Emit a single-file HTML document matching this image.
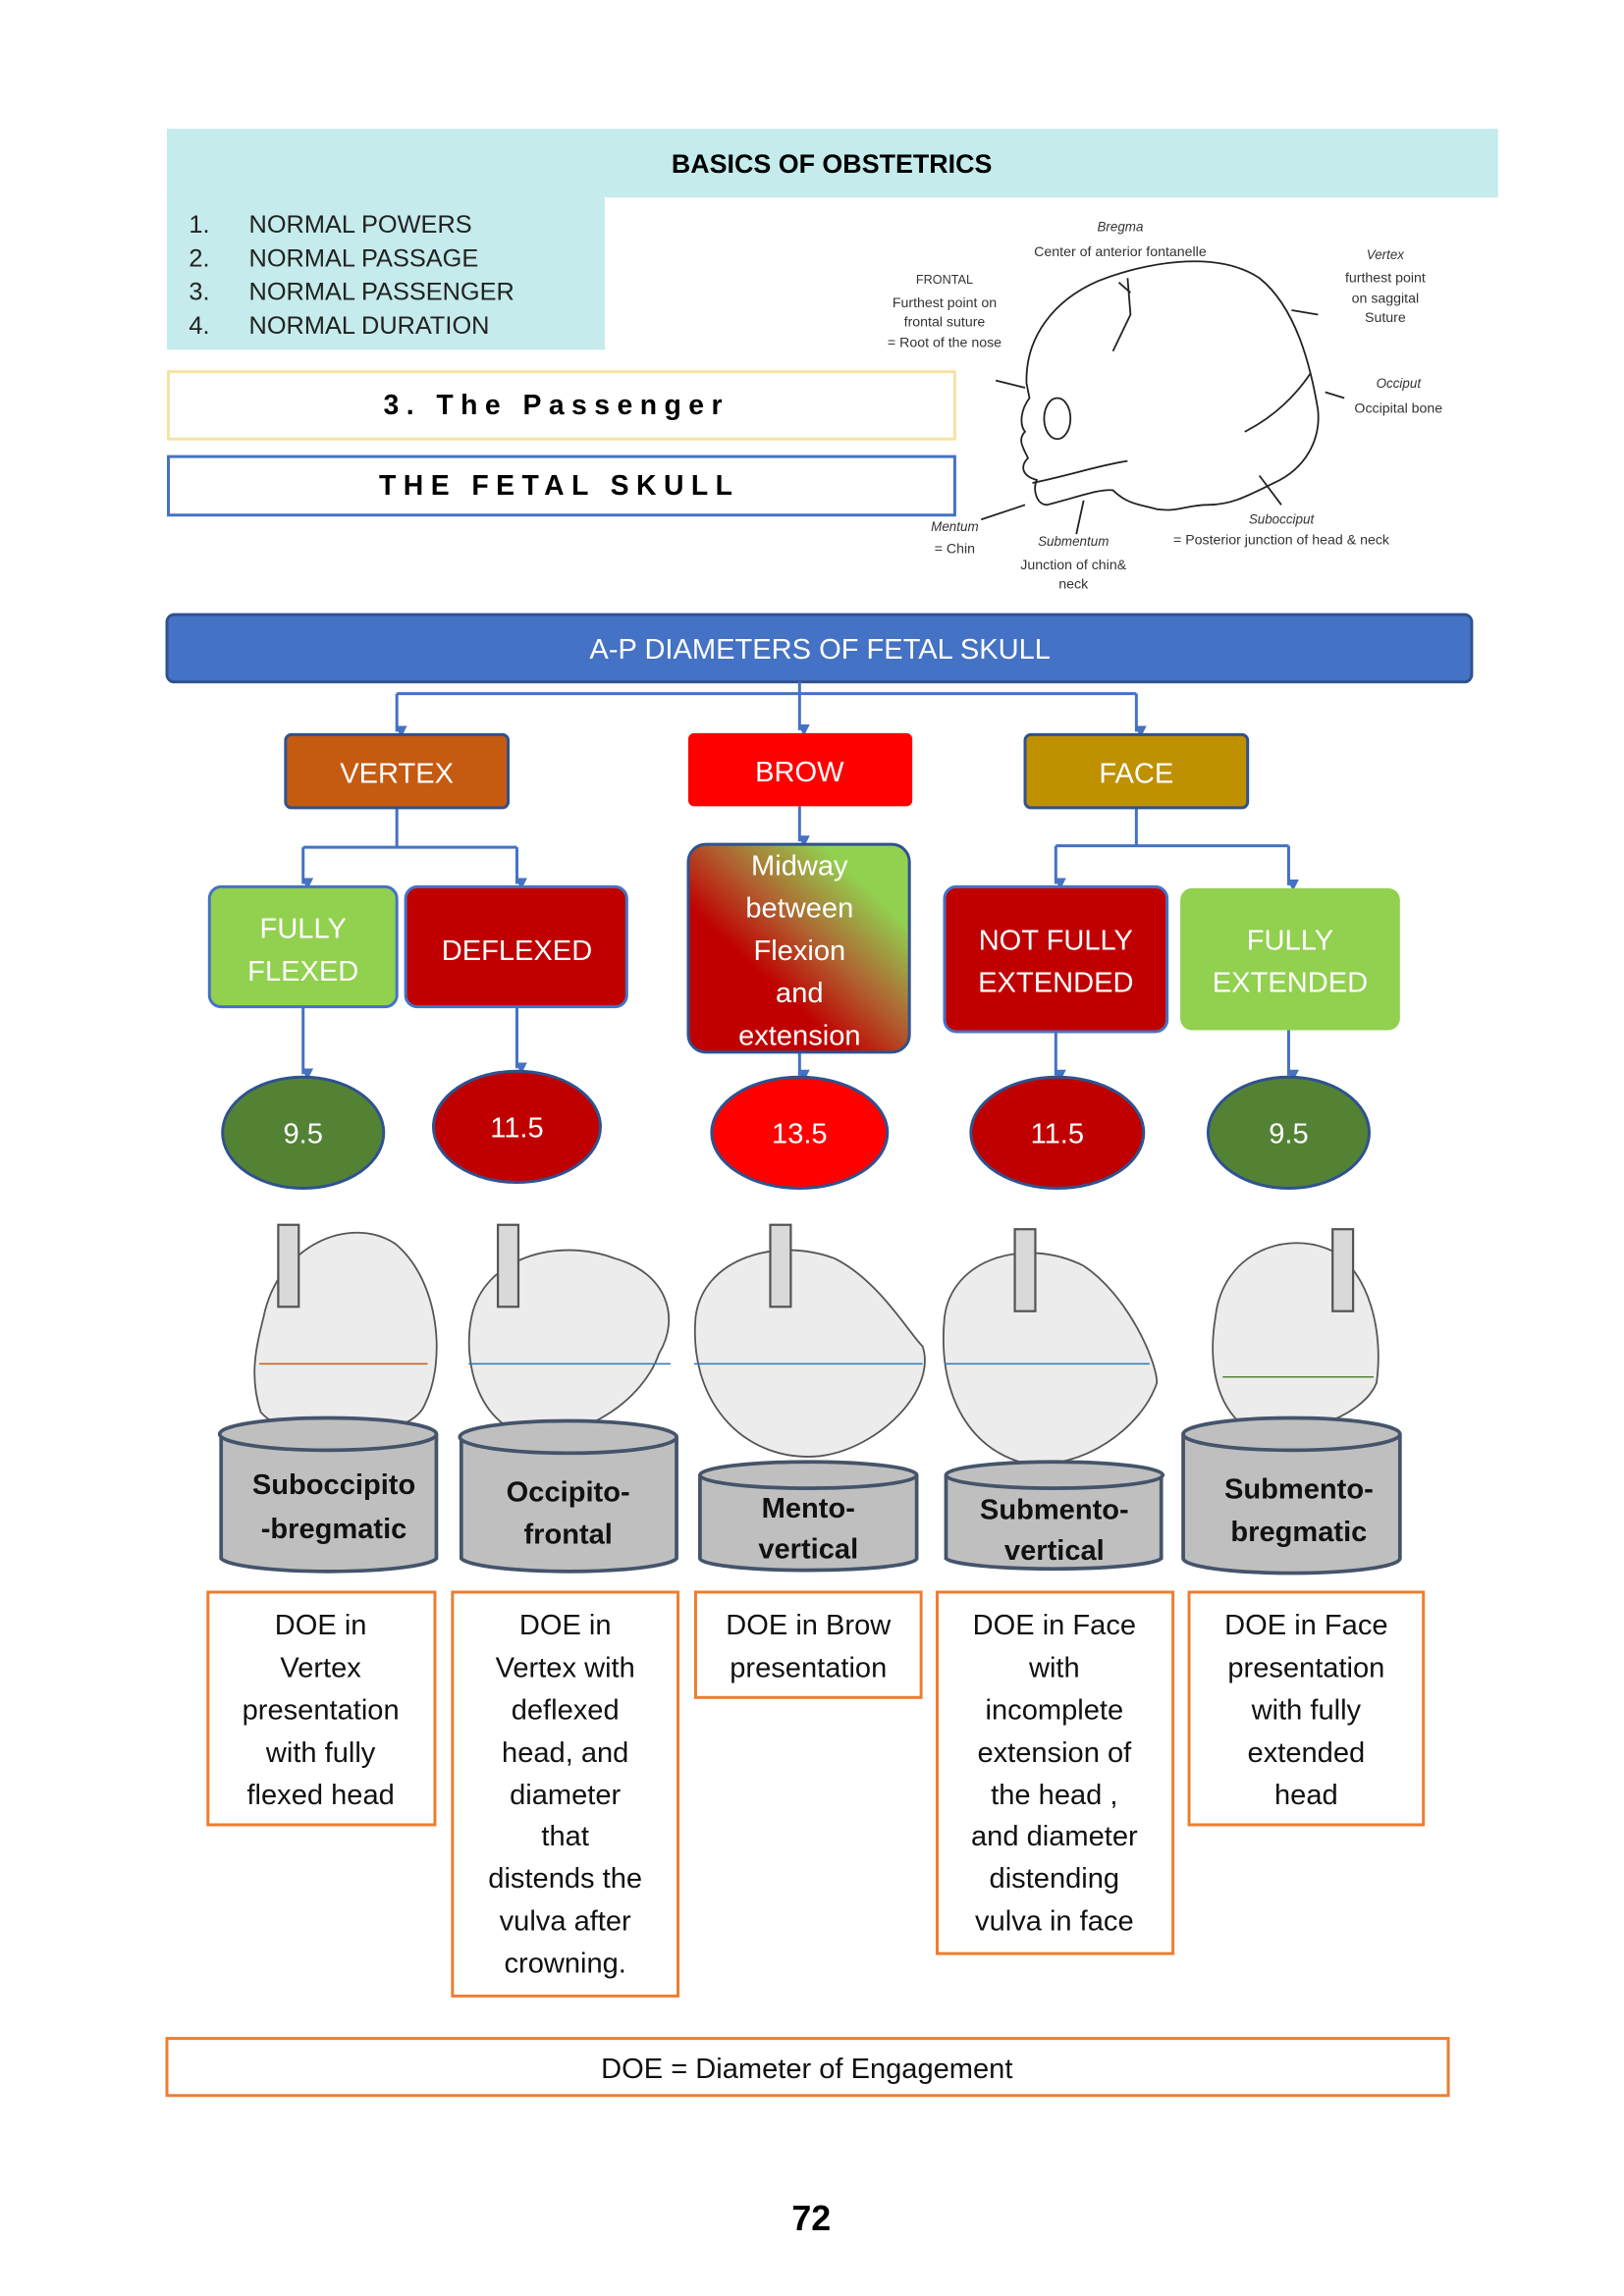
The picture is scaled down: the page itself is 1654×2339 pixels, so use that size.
<!DOCTYPE html>
<html><head><meta charset="utf-8"><style>html,body{margin:0;padding:0;background:#fff}svg{display:block}</style></head>
<body>
<svg xmlns="http://www.w3.org/2000/svg" width="1654" height="2339" viewBox="0 0 1109 1569" preserveAspectRatio="none" font-family="Liberation Sans, sans-serif">
<defs>
<marker id="a" markerWidth="8" markerHeight="8" refX="4" refY="7" orient="auto" markerUnits="userSpaceOnUse"><path d="M0,0 L8,0 L4,8 z" fill="#4472c4" transform="rotate(-90 4 4)"/></marker>
<linearGradient id="g2" x1="0" y1="1" x2="1" y2="0"><stop offset="0" stop-color="#c00000"/><stop offset="0.35" stop-color="#c00000"/><stop offset="0.55" stop-color="#b06030"/><stop offset="0.8" stop-color="#92d050"/></linearGradient>
</defs>
<rect x="114" y="88" width="909" height="47" fill="#c5ebec"/>
<text x="568" y="118" font-size="18" font-weight="bold" text-anchor="middle">BASICS OF OBSTETRICS</text>
<rect x="114" y="135" width="299" height="104" fill="#c5ebec"/>
<g font-size="17" fill="#222">
<text x="129" y="159">1.</text><text x="170" y="159">NORMAL POWERS</text>
<text x="129" y="182">2.</text><text x="170" y="182">NORMAL PASSAGE</text>
<text x="129" y="205">3.</text><text x="170" y="205">NORMAL PASSENGER</text>
<text x="129" y="228">4.</text><text x="170" y="228">NORMAL DURATION</text>
</g>
<rect x="115" y="254" width="537" height="46" fill="none" stroke="#f7e3a1" stroke-width="2"/>
<text x="380" y="283" font-size="19" font-weight="bold" text-anchor="middle" letter-spacing="5">3. The Passenger</text>
<rect x="115" y="312" width="537" height="40" fill="none" stroke="#4472c4" stroke-width="2"/>
<text x="382" y="338" font-size="19" font-weight="bold" text-anchor="middle" letter-spacing="5">THE FETAL SKULL</text>
<g fill="none" stroke="#222" stroke-width="1.2">
<path d="M701,262 C700,230 720,205 750,192 C780,180 830,170 860,190 C885,210 895,250 900,280 C902,300 892,320 870,330 C850,340 840,345 825,345 C810,345 805,350 790,348 C780,345 770,345 760,335 C750,334 735,340 715,345 C708,345 705,335 708,328 C697,325 697,318 702,313 C698,305 695,300 700,295 C696,290 697,280 703,272 Z"/>
<path d="M770,190 L772,215 L760,240"/><path d="M764,193 L772,200"/>
<path d="M850,295 C870,285 885,270 895,255"/>
<ellipse cx="722" cy="286" rx="9" ry="14"/>
<path d="M705,330 C730,325 750,318 770,315"/>
<path d="M680,260 L700,265 M900,215 L882,212 M905,268 L918,272 M875,345 L860,325 M670,355 L700,345 M735,365 L740,342"/>
</g>
<g font-size="9.5" fill="#333" text-anchor="middle">
<text x="765" y="158" font-style="italic" font-size="9">Bregma</text>
<text x="765" y="175">Center of anterior fontanelle</text>
<text x="645" y="194" font-size="8.5">FRONTAL</text>
<text x="645" y="210">Furthest point on</text><text x="645" y="223">frontal suture</text><text x="645" y="237">= Root of the nose</text>
<text x="946" y="177" font-style="italic" font-size="9">Vertex</text>
<text x="946" y="193">furthest point</text><text x="946" y="207">on saggital</text><text x="946" y="220">Suture</text>
<text x="955" y="265" font-style="italic" font-size="9">Occiput</text>
<text x="955" y="282">Occipital bone</text>
<text x="875" y="358" font-style="italic" font-size="9">Subocciput</text>
<text x="875" y="372">= Posterior junction of head &amp; neck</text>
<text x="652" y="363" font-style="italic" font-size="9">Mentum</text><text x="652" y="378">= Chin</text>
<text x="733" y="373" font-style="italic" font-size="9">Submentum</text>
<text x="733" y="389">Junction of chin&amp;</text><text x="733" y="402">neck</text>
</g>
<rect x="114" y="420" width="891" height="46" rx="5" fill="#4472c4" stroke="#2f528f" stroke-width="2"/>
<text x="560" y="450" font-size="19.5" fill="#fff" text-anchor="middle">A-P DIAMETERS OF FETAL SKULL</text>
<g stroke="#4472c4" stroke-width="2" fill="none">
<path d="M546,466 V474 M271,474 H776"/>
<path d="M271,474 V500" marker-end="url(#a)"/><path d="M546,474 V499" marker-end="url(#a)"/><path d="M776,474 V500" marker-end="url(#a)"/>
<path d="M271,552 V579 M207,579 H353"/>
<path d="M207,579 V604" marker-end="url(#a)"/><path d="M353,579 V604" marker-end="url(#a)"/>
<path d="M546,551 V575" marker-end="url(#a)"/>
<path d="M776,552 V578 M721,578 H880"/>
<path d="M721,578 V604" marker-end="url(#a)"/><path d="M880,578 V605" marker-end="url(#a)"/>
<path d="M207,688 V734" marker-end="url(#a)"/><path d="M353,688 V730" marker-end="url(#a)"/>
<path d="M546,719 V735" marker-end="url(#a)"/><path d="M721,705 V735" marker-end="url(#a)"/><path d="M880,704 V735" marker-end="url(#a)"/>
</g>
<rect x="195" y="502" width="152" height="50" rx="4" fill="#c55a11" stroke="#2f528f" stroke-width="2"/>
<text x="271" y="535" font-size="19.5" fill="#fff" text-anchor="middle">VERTEX</text>
<rect x="470" y="501" width="153" height="50" rx="4" fill="#ff0000"/>
<text x="546" y="534" font-size="19.5" fill="#fff" text-anchor="middle">BROW</text>
<rect x="700" y="502" width="152" height="50" rx="4" fill="#bf9000" stroke="#2f528f" stroke-width="2"/>
<text x="776" y="535" font-size="19.5" fill="#fff" text-anchor="middle">FACE</text>
<rect x="143" y="606" width="128" height="82" rx="8" fill="#92d050" stroke="#4472c4" stroke-width="2"/>
<text x="207" y="641" font-size="19.5" fill="#fff" text-anchor="middle">FULLY</text>
<text x="207" y="670" font-size="19.5" fill="#fff" text-anchor="middle">FLEXED</text>
<rect x="277" y="606" width="151" height="82" rx="8" fill="#c00000" stroke="#4472c4" stroke-width="2"/>
<text x="353" y="656" font-size="19.5" fill="#fff" text-anchor="middle">DEFLEXED</text>
<rect x="470" y="577" width="151" height="142" rx="12" fill="url(#g2)" stroke="#2f528f" stroke-width="2"/>
<g font-size="19.5" fill="#fff" text-anchor="middle">
<text x="546" y="598">Midway</text><text x="546" y="627">between</text><text x="546" y="656">Flexion</text><text x="546" y="685">and</text><text x="546" y="714">extension</text></g>
<rect x="645" y="606" width="152" height="99" rx="8" fill="#c00000" stroke="#4472c4" stroke-width="2"/>
<text x="721" y="649" font-size="19.5" fill="#fff" text-anchor="middle">NOT FULLY</text>
<text x="721" y="678" font-size="19.5" fill="#fff" text-anchor="middle">EXTENDED</text>
<rect x="806" y="607" width="150" height="97" rx="8" fill="#92d050"/>
<text x="881" y="649" font-size="19.5" fill="#fff" text-anchor="middle">FULLY</text>
<text x="881" y="678" font-size="19.5" fill="#fff" text-anchor="middle">EXTENDED</text>
<g stroke="#2f528f" stroke-width="2">
<ellipse cx="207" cy="774" rx="55" ry="38" fill="#548235"/>
<ellipse cx="353" cy="770" rx="57" ry="38" fill="#c00000"/>
<ellipse cx="546" cy="774" rx="60" ry="38" fill="#ff0000"/>
<ellipse cx="722" cy="774" rx="59" ry="38" fill="#c00000"/>
<ellipse cx="880" cy="774" rx="55" ry="38" fill="#548235"/>
</g>
<g font-size="19.5" fill="#fff" text-anchor="middle">
<text x="207" y="781">9.5</text><text x="353" y="777">11.5</text><text x="546" y="781">13.5</text><text x="722" y="781">11.5</text><text x="880" y="781">9.5</text></g>
<g stroke="#555" stroke-width="1.2" fill="#ececec">
<path d="M180,900 C190,850 240,830 270,850 C300,875 305,930 290,960 C280,985 200,990 178,965 C170,940 175,920 180,900 Z"/>
<path d="M322,900 C330,860 380,845 420,860 C455,870 465,900 450,925 C440,955 400,985 360,980 C330,975 315,935 322,900 Z"/>
<path d="M475,900 C480,860 530,845 570,860 C600,875 620,910 630,920 C640,950 600,990 560,995 C510,1000 470,960 475,900 Z"/>
<path d="M645,900 C650,860 700,845 740,865 C770,885 790,930 790,945 C780,975 740,1005 700,1000 C660,990 640,950 645,900 Z"/>
<path d="M830,900 C835,855 880,840 910,855 C935,870 945,910 940,945 C930,970 880,985 850,975 C830,960 825,930 830,900 Z"/>
</g>
<g stroke="#555" stroke-width="1.5" fill="#d9d9d9">
<rect x="190" y="837" width="14" height="56"/><rect x="340" y="837" width="14" height="56"/>
<rect x="526" y="837" width="14" height="56"/><rect x="693" y="840" width="14" height="56"/><rect x="910" y="840" width="14" height="56"/>
</g>
<g stroke="#c55a11" stroke-width="1"><line x1="177" y1="932" x2="292" y2="932"/></g>
<g stroke="#2e75b6" stroke-width="1"><line x1="320" y1="932" x2="458" y2="932"/><line x1="474" y1="932" x2="630" y2="932"/><line x1="645" y1="932" x2="785" y2="932"/></g>
<g stroke="#548235" stroke-width="1"><line x1="835" y1="941" x2="938" y2="941"/></g>
<g fill="#bfbfbf" stroke="#44546a" stroke-width="2.5">
<path d="M151,980 V1065 A74,10 0 0 0 298,1065 V980"/><ellipse cx="224" cy="980" rx="74" ry="11"/>
<path d="M315,982 V1065 A74,10 0 0 0 462,1065 V982"/><ellipse cx="388" cy="982" rx="74" ry="11"/>
<path d="M478,1008 V1065 A74,8 0 0 0 626,1065 V1008"/><ellipse cx="552" cy="1008" rx="74" ry="9"/>
<path d="M646,1008 V1065 A74,8 0 0 0 793,1065 V1008"/><ellipse cx="720" cy="1008" rx="74" ry="9"/>
<path d="M808,980 V1065 A74,10 0 0 0 956,1065 V980"/><ellipse cx="882" cy="980" rx="74" ry="11"/>
</g>
<g font-size="19.5" font-weight="bold" fill="#111" text-anchor="middle">
<text x="228" y="1021">Suboccipito</text><text x="228" y="1051">-bregmatic</text>
<text x="388" y="1026">Occipito-</text><text x="388" y="1055">frontal</text>
<text x="552" y="1037">Mento-</text><text x="552" y="1065">vertical</text>
<text x="720" y="1038">Submento-</text><text x="720" y="1066">vertical</text>
<text x="887" y="1024">Submento-</text><text x="887" y="1053">bregmatic</text>
</g>
<g fill="none" stroke="#ed7d31" stroke-width="2">
<rect x="142" y="1088" width="155" height="159"/><rect x="309" y="1088" width="154" height="276"/>
<rect x="475" y="1088" width="154" height="72"/><rect x="640" y="1088" width="161" height="247"/>
<rect x="812" y="1088" width="160" height="159"/><rect x="114" y="1393" width="875" height="39"/>
</g>
<g font-size="19.5" fill="#111" text-anchor="middle">
<text x="219" y="1117">DOE in</text><text x="219" y="1146">Vertex</text><text x="219" y="1175">presentation</text><text x="219" y="1204">with fully</text><text x="219" y="1233">flexed head</text>
<text x="386" y="1117">DOE in</text><text x="386" y="1146">Vertex with</text><text x="386" y="1175">deflexed</text><text x="386" y="1204">head, and</text><text x="386" y="1233">diameter</text><text x="386" y="1261">that</text><text x="386" y="1290">distends the</text><text x="386" y="1319">vulva after</text><text x="386" y="1348">crowning.</text>
<text x="552" y="1117">DOE in Brow</text><text x="552" y="1146">presentation</text>
<text x="720" y="1117">DOE in Face</text><text x="720" y="1146">with</text><text x="720" y="1175">incomplete</text><text x="720" y="1204">extension of</text><text x="720" y="1233">the head ,</text><text x="720" y="1261">and diameter</text><text x="720" y="1290">distending</text><text x="720" y="1319">vulva in face</text>
<text x="892" y="1117">DOE in Face</text><text x="892" y="1146">presentation</text><text x="892" y="1175">with fully</text><text x="892" y="1204">extended</text><text x="892" y="1233">head</text>
<text x="551" y="1420">DOE = Diameter of Engagement</text>
</g>
<text x="554" y="1524" font-size="24" font-weight="bold" text-anchor="middle">72</text>
</svg>
</body></html>
